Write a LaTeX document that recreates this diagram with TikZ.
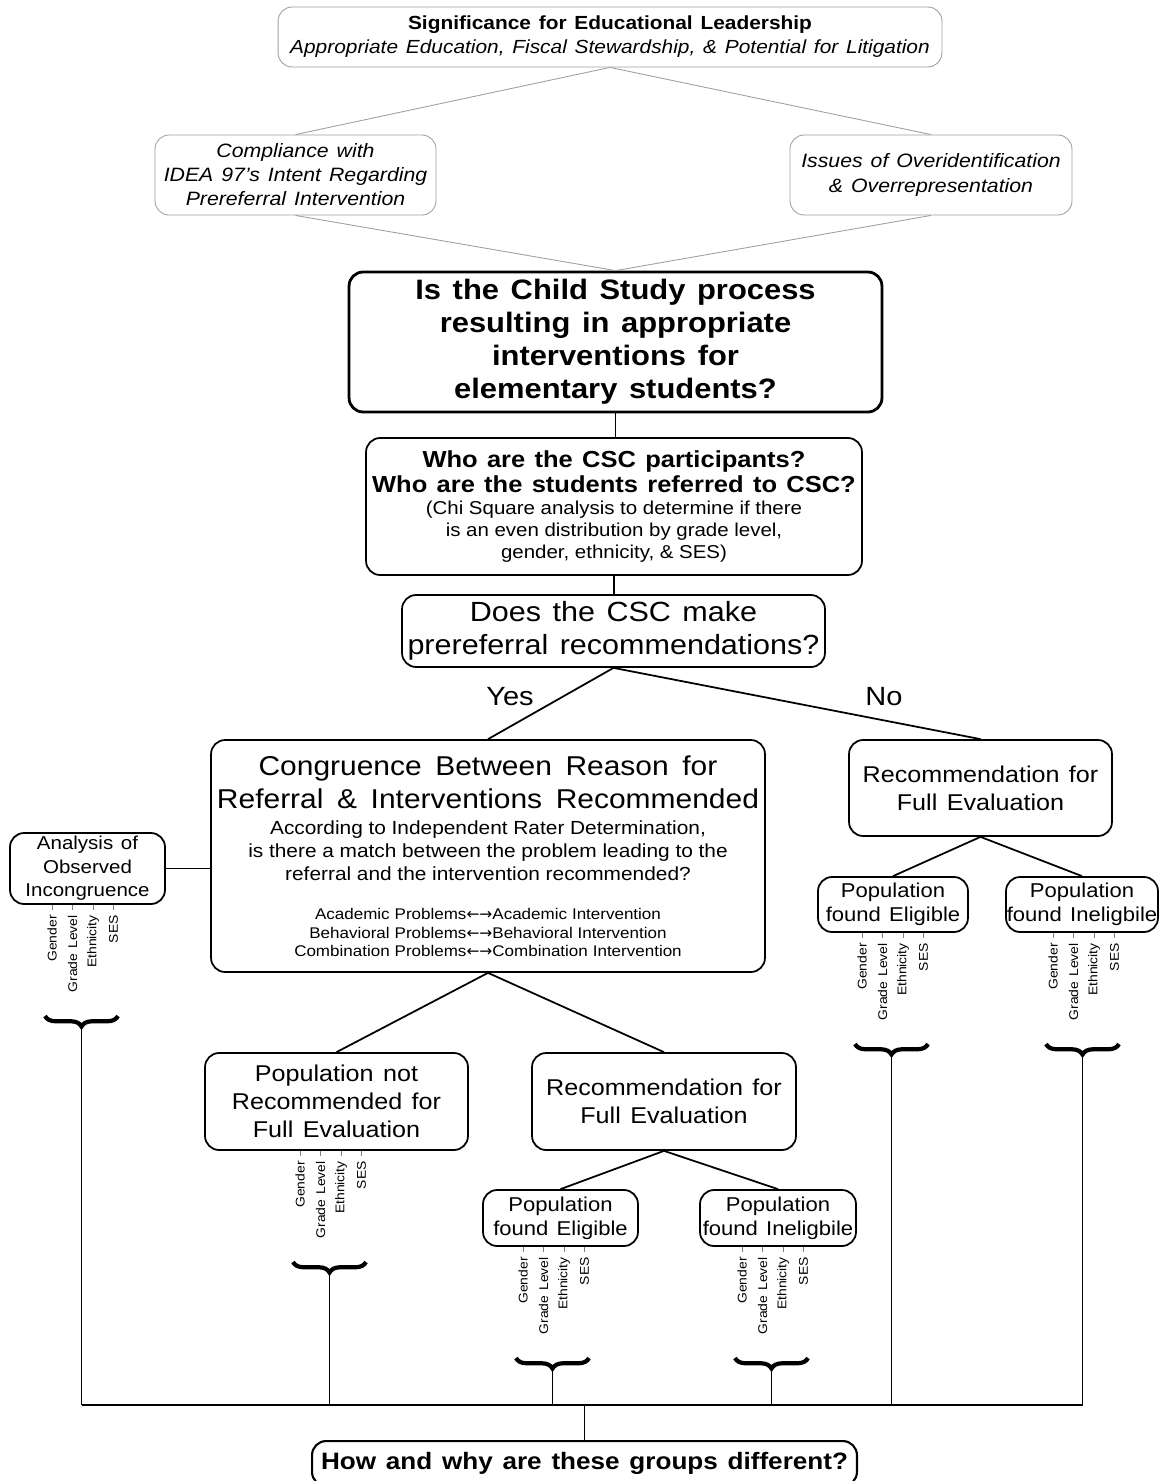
\documentclass[tikz,border=0pt]{standalone}
\usepackage{fontspec}
\setmainfont[FakeStretch=1.1,WordSpace=1.35]{Liberation Sans}
\newfontfamily\arrowfont{DejaVu Sans}
\usetikzlibrary{decorations.pathreplacing}

\begin{document}
\begin{tikzpicture}[x=0.02cm,y=-0.02cm,
  box/.style={draw,rounded corners=8pt,line width=1pt,align=center,inner sep=0pt},
  topbox/.style={box,draw=gray!75,line width=0.5pt},
  link/.style={line width=1pt},
  faint/.style={draw=gray!75,line width=0.5pt},
  attr/.style={rotate=90,anchor=east,inner sep=0.5pt,font=\fontsize{7.2}{8}\selectfont},
  tick/.style={gray,line width=0.4pt,densely dashed},
  brc/.style={decorate,decoration={brace,mirror,amplitude=6pt},line width=2.4pt},
  yesno/.style={font=\fontsize{15}{18}\selectfont}]
\useasboundingbox (0,0) rectangle (1159,1481);
\node[topbox,minimum width=13.28cm,minimum height=1.2cm,font=\fontsize{10.8}{13.7}\selectfont] (sig) at (610,37)
  {\textbf{Significance for Educational Leadership}\\\textit{Appropriate Education, Fiscal Stewardship, \& Potential for Litigation}};
\node[topbox,minimum width=5.62cm,minimum height=1.6cm,font=\fontsize{11}{13.7}\selectfont\itshape] (comp) at (295.5,175)
  {Compliance with\\IDEA 97's Intent Regarding\\Prereferral Intervention};
\node[topbox,minimum width=5.64cm,minimum height=1.6cm,font=\fontsize{11}{13.7}\selectfont\itshape] (iss) at (931,175)
  {Issues of Overidentification\\\& Overrepresentation};
\node[box,line width=1.6pt,minimum width=10.66cm,minimum height=2.8cm,font=\fontsize{16}{18.8}\selectfont\bfseries] (quest) at (615.5,342)
  {Is the Child Study process\\resulting in appropriate\\interventions for\\elementary students?};
\node[box,minimum width=9.92cm,minimum height=2.74cm,text width=9.9cm] (csc) at (614,506.5)
  {{\fontsize{13.2}{14}\selectfont\bfseries\spaceskip=.4em Who are the CSC participants?\\Who are the students referred to CSC?\par}
   {\fontsize{10.6}{12.6}\selectfont\spaceskip=.3em (Chi Square analysis to determine if there\\is an even distribution by grade level,\\gender, ethnicity, \& SES)\par}};
\node[box,minimum width=8.46cm,minimum height=1.44cm,font=\fontsize{15.8}{18.8}\selectfont] (does) at (613.5,631)
  {Does the CSC make\\prereferral recommendations?};
\node[yesno] (yes) at (510,697) {Yes};
\node[yesno] (no) at (884,697) {No};
\node[box,minimum width=11.08cm,minimum height=4.64cm,text width=11cm] (cong) at (488,856)
  {{\fontsize{15.5}{18.8}\selectfont\spaceskip=.5em Congruence Between Reason for\\Referral \& Interventions Recommended\par}
   \vspace{2pt}
   {\fontsize{10.8}{13}\selectfont\spaceskip=.3em According to Independent Rater Determination,\\is there a match between the problem leading to the\\referral and the intervention recommended?\par}
   \vspace{12pt}
   {\fontsize{8.8}{10.5}\selectfont\spaceskip=.32em Academic Problems{\arrowfont ←→}Academic Intervention\\Behavioral Problems{\arrowfont ←→}Behavioral Intervention\\Combination Problems{\arrowfont ←→}Combination Intervention\par}};
\node[box,minimum width=3.1cm,minimum height=1.42cm,font=\fontsize{10.6}{13.4}\selectfont] (anal) at (87.5,868.5)
  {Analysis of\\Observed\\Incongruence};
\node[box,minimum width=5.26cm,minimum height=1.92cm,font=\fontsize{13}{16}\selectfont] (recR) at (980.5,788)
  {Recommendation for\\Full Evaluation};
\node[box,minimum width=3.0cm,minimum height=1.1cm,font=\fontsize{11.4}{13.7}\selectfont] (peR) at (893,904.5)
  {Population\\found Eligible};
\node[box,minimum width=3.04cm,minimum height=1.1cm,font=\fontsize{11.4}{13.7}\selectfont] (piR) at (1082,904.5)
  {Population\\found Ineligbile};
\node[box,minimum width=5.26cm,minimum height=1.94cm,font=\fontsize{13}{16}\selectfont] (popnot) at (336.5,1101.5)
  {Population not\\Recommended for\\Full Evaluation};
\node[box,minimum width=5.28cm,minimum height=1.94cm,font=\fontsize{13}{16}\selectfont] (recM) at (664,1101.5)
  {Recommendation for\\Full Evaluation};
\node[box,minimum width=3.1cm,minimum height=1.12cm,font=\fontsize{11.4}{13.7}\selectfont] (peM) at (560.5,1218)
  {Population\\found Eligible};
\node[box,minimum width=3.12cm,minimum height=1.12cm,font=\fontsize{11.4}{13.7}\selectfont] (piM) at (778,1218)
  {Population\\found Ineligbile};
\node[box,line width=1.2pt,minimum width=10.9cm,minimum height=0.9cm,anchor=north,font=\fontsize{13.5}{16}\selectfont\bfseries] (final) at (584.5,1440)
  {How and why are these groups different?};
\coordinate (bus) at (584.5,1405);
\draw[faint] (sig.south) -- (comp.north) (sig.south) -- (iss.north)
  (comp.south) -- (quest.north) (iss.south) -- (quest.north);
\draw[link] (quest.south) -- (quest.south |- csc.north) (csc.south) -- (csc.south |- does.north);
\draw[link] (does.south) -- (cong.north) (does.south) -- (recR.north);
\draw[link] (anal.east) -- (anal.east -| cong.west);
\draw[link] (cong.south) -- (popnot.north) (cong.south) -- (recM.north);
\draw[link] (recM.south) -- (peM.north) (recM.south) -- (piM.north);
\draw[link] (recR.south) -- (peR.north) (recR.south) -- (piR.north);
\foreach \b/\gx/\gy in {anal/52/904,popnot/300/1150,peM/523/1246,piM/742/1246,peR/862/932,piR/1053/932}{
  \foreach \t [count=\k] in {Gender,Grade Level,Ethnicity,SES}{
    \draw[tick] (\gx+20.5*\k-20.5,\gy+1) -- (\gx+20.5*\k-20.5,\gy+9);
    \node[attr] (\b-\k) at (\gx+20.5*\k-20.5,\gy+10) {\t};
  }
  \draw[brc] (\gx-7,\gy+112) -- (\gx+66,\gy+112);
  \coordinate (\b-tip) at (\gx+29.5,\gy+125);
  \draw[link] (\b-tip) -- (\b-tip |- bus);
}
\draw[link] (anal-tip |- bus) -- (piR-tip |- bus);
\draw[link] (bus) -- (final.north);
\end{tikzpicture}
\end{document}
